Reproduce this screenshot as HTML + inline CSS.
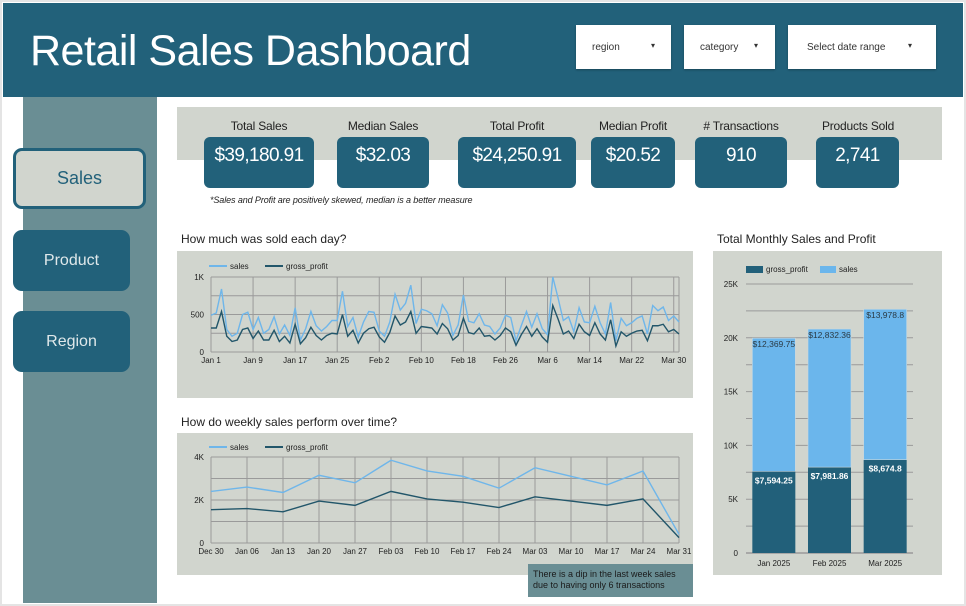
<!DOCTYPE html>
<html><head><meta charset="utf-8">
<style>
*{box-sizing:border-box;margin:0;padding:0}
body{width:966px;height:606px;background:#fff;font-family:"Liberation Sans",sans-serif;position:relative;overflow:hidden}
.abs{position:absolute}
#frame{left:0;top:0;width:966px;height:606px;border:2px solid #e4e4e4}
#header{left:3px;top:3px;width:960px;height:94px;background:#22617a}
#title{left:30px;top:27px;color:#fff;font-size:43px;letter-spacing:-0.5px}
.dd{background:#fff;height:44px;top:25px;font-size:10px;color:#333;box-shadow:0 1px 2px rgba(0,0,0,.3)}
.dd span{position:absolute;top:17px;left:16px}
.dd i{position:absolute;top:16px;font-style:normal;font-size:8px}
#sidebar{left:23px;top:97px;width:134px;height:506px;background:#6a8e94}
.nav{left:13px;width:117px;height:61px;border-radius:9px;background:#22617a;color:#dfe8ea;font-size:16px;text-align:center;line-height:61px}
#kpiband{left:177px;top:107px;width:765px;height:53px;background:#d1d5ce}
.kl{top:119px;font-size:12px;color:#222;text-align:center;letter-spacing:-0.2px}
.kv{top:137px;height:51px;background:#22617a;border-radius:6px;color:#fff;font-size:19px;text-align:center;line-height:38px;letter-spacing:-0.6px}
.ct{font-size:12px;color:#222}
.box{background:#d1d5ce}
svg text{font-family:"Liberation Sans",sans-serif}
</style></head><body>
<div class="abs" id="frame"></div>
<div class="abs" id="header"></div>
<div class="abs" id="title">Retail Sales Dashboard</div>
<div class="abs dd" style="left:576px;width:95px"><span>region</span><i style="left:75px">▾</i></div>
<div class="abs dd" style="left:684px;width:91px"><span>category</span><i style="left:70px">▾</i></div>
<div class="abs dd" style="left:788px;width:148px"><span style="left:19px">Select date range</span><i style="left:120px">▾</i></div>

<div class="abs" id="sidebar"></div>
<div class="abs nav" style="top:148px;width:133px;background:#d1d5ce;border:3px solid #22617a;color:#22617a;font-size:18px;line-height:55px">Sales</div>
<div class="abs nav" style="top:230px">Product</div>
<div class="abs nav" style="top:311px">Region</div>

<div class="abs" id="kpiband"></div>
<div class="abs kl" style="left:204px;width:110px">Total Sales</div>
<div class="abs kv" style="left:204px;width:110px">$39,180.91</div>
<div class="abs kl" style="left:337px;width:92px">Median Sales</div>
<div class="abs kv" style="left:337px;width:92px">$32.03</div>
<div class="abs kl" style="left:458px;width:118px">Total Profit</div>
<div class="abs kv" style="left:458px;width:118px">$24,250.91</div>
<div class="abs kl" style="left:591px;width:84px">Median Profit</div>
<div class="abs kv" style="left:591px;width:84px">$20.52</div>
<div class="abs kl" style="left:695px;width:92px"># Transactions</div>
<div class="abs kv" style="left:695px;width:92px">910</div>
<div class="abs kl" style="left:808px;width:100px">Products Sold</div>
<div class="abs kv" style="left:816px;width:83px">2,741</div>
<div class="abs" style="left:210px;top:195px;font-size:9px;font-style:italic;color:#222;letter-spacing:-0.1px">*Sales and Profit are positively skewed, median is a better measure</div>

<div class="abs ct" style="left:181px;top:232px">How much was sold each day?</div>
<div class="abs box" style="left:177px;top:251px;width:516px;height:147px"></div>
<svg class="abs" id="c1" style="left:0;top:0" width="966" height="606"></svg>

<div class="abs ct" style="left:181px;top:415px">How do weekly sales perform over time?</div>
<div class="abs box" style="left:177px;top:433px;width:516px;height:142px"></div>
<svg class="abs" id="c2" style="left:0;top:0" width="966" height="606"></svg>
<div class="abs" style="left:528px;top:564px;width:165px;height:33px;background:#6a8e94;color:#1a1a1a;font-size:9px;padding:5px 0 0 5px;line-height:11px">There is a dip in the last week sales<br>due to having only 6 transactions</div>

<div class="abs ct" style="left:717px;top:232px">Total Monthly Sales and Profit</div>
<div class="abs box" style="left:713px;top:251px;width:229px;height:324px"></div>
<svg class="abs" id="c3" style="left:0;top:0" width="966" height="606"></svg>

<script>
const dailySales=[490,520,840,300,210,250,500,530,300,460,250,300,470,240,360,220,590,160,310,540,350,280,340,420,420,810,340,460,200,400,540,
530,280,210,400,770,560,650,890,380,570,550,510,350,630,520,220,360,760,410,390,510,360,340,240,320,490,460,150,
350,540,330,510,310,230,1000,720,420,470,270,590,400,390,610,390,240,660,150,450,350,390,450,480,240,620,550,600,420,480,400];
const dailyProfit=[320,320,540,210,140,160,300,320,180,280,160,160,290,140,210,120,370,110,190,330,220,160,220,250,240,500,210,290,120,250,310,
330,200,130,260,480,360,400,540,250,340,330,320,240,380,310,160,220,450,260,240,320,210,220,160,220,320,270,90,
230,340,210,310,200,130,620,440,240,280,180,370,270,220,390,240,160,430,80,270,210,250,280,290,150,350,350,370,270,300,240];
const dailyTicks=["Jan 1","Jan 9","Jan 17","Jan 25","Feb 2","Feb 10","Feb 18","Feb 26","Mar 6","Mar 14","Mar 22","Mar 30"];
const dailyYTicks=[0,500,1000];
const dailyYLabels=["0","500","1K"];
const weeks=["Dec 30","Jan 06","Jan 13","Jan 20","Jan 27","Feb 03","Feb 10","Feb 17","Feb 24","Mar 03","Mar 10","Mar 17","Mar 24","Mar 31"];
const weeklySales=[2400,2600,2350,3150,2800,3850,3350,3100,2550,3500,3100,2700,3350,400];
const weeklyProfit=[1550,1600,1450,1950,1750,2400,2050,1900,1650,2150,1950,1750,2050,250];
const weeklyYTicks=[0,2000,4000];
const weeklyYLabels=["0","2K","4K"];
const months=["Jan 2025","Feb 2025","Mar 2025"];
const monthProfit=[7594.25,7981.86,8674.8];
const monthSales=[12369.75,12832.36,13978.8];
const monthProfitLabels=["$7,594.25","$7,981.86","$8,674.8"];
const monthSalesLabels=["$12,369.75","$12,832.36","$13,978.8"];
const monthYTicks=[0,5000,10000,15000,20000,25000];
const monthYLabels=["0","5K","10K","15K","20K","25K"];

const NS="http://www.w3.org/2000/svg";
function mk(svg,tag,attrs,txt){const e=document.createElementNS(NS,tag);for(const k in attrs)e.setAttribute(k,attrs[k]);if(txt!==undefined)e.textContent=txt;svg.appendChild(e);return e;}

// Chart 1
(function(){
const s=document.getElementById('c1');
const x0=211,x1=679,y0=352,y1=277,n=dailySales.length;
const X=i=>x0+i*(x1-x0)/(n-1);
const Y=v=>y0-(v/1000)*(y0-y1);
for(let v=0;v<=1000;v+=250){const l=mk(s,'line',{x1:x0,x2:x1,y1:Y(v),y2:Y(v),stroke:'#9a9a9a','stroke-width':1});

}
dailyTicks.forEach((t,k)=>{const x=X(k*8);const l=mk(s,'line',{x1:x,x2:x,y1:y1,y2:y0,stroke:'#9a9a9a','stroke-width':1});


const tx=mk(s,'text',{x:x,y:y0+11,'font-size':8,'text-anchor':'middle',fill:'#222'},t);

});
mk(s,'line',{x1:x1,x2:x1,y1:y1,y2:y0,stroke:'#9a9a9a'});
dailyYTicks.forEach((v,k)=>{const t=mk(s,'text',{x:204,y:Y(v)+3,'font-size':8,'text-anchor':'end',fill:'#222'},dailyYLabels[k]);

});
const p1=mk(s,'polyline',{points:dailySales.map((v,i)=>X(i)+','+Y(v)).join(' '),fill:'none',stroke:'#6fb6ea','stroke-width':1.4});


const p2=mk(s,'polyline',{points:dailyProfit.map((v,i)=>X(i)+','+Y(v)).join(' '),fill:'none',stroke:'#22566a','stroke-width':1.4});


mk(s,'line',{x1:209,x2:227,y1:266,y2:266,stroke:'#6fb6ea','stroke-width':2});
mk(s,'text',{x:230,y:269,'font-size':8,fill:'#222'},'sales');
mk(s,'line',{x1:265,x2:283,y1:266,y2:266,stroke:'#22566a','stroke-width':2});
mk(s,'text',{x:286,y:269,'font-size':8,fill:'#222'},'gross_profit');
})();

// Chart 2
(function(){
const s=document.getElementById('c2');
const x0=211,x1=679,y0=543,y1=457,n=weeks.length;
const X=i=>x0+i*(x1-x0)/(n-1);
const Y=v=>y0-(v/4000)*(y0-y1);
for(let v=0;v<=4000;v+=1000){const l=mk(s,'line',{x1:x0,x2:x1,y1:Y(v),y2:Y(v),stroke:'#9a9a9a'});

}
weeks.forEach((w,i)=>{const l=mk(s,'line',{x1:X(i),x2:X(i),y1:y1,y2:y0,stroke:'#9a9a9a'});


const t=mk(s,'text',{x:X(i),y:y0+11,'font-size':8,'text-anchor':'middle',fill:'#222'},w);

});
weeklyYTicks.forEach((v,k)=>{const t=mk(s,'text',{x:204,y:Y(v)+3,'font-size':8,'text-anchor':'end',fill:'#222'},weeklyYLabels[k]);

});
const p1=mk(s,'polyline',{points:weeklySales.map((v,i)=>X(i)+','+Y(v)).join(' '),fill:'none',stroke:'#6fb6ea','stroke-width':1.4});


const p2=mk(s,'polyline',{points:weeklyProfit.map((v,i)=>X(i)+','+Y(v)).join(' '),fill:'none',stroke:'#22566a','stroke-width':1.4});


mk(s,'line',{x1:209,x2:227,y1:447,y2:447,stroke:'#6fb6ea','stroke-width':2});
mk(s,'text',{x:230,y:450,'font-size':8,fill:'#222'},'sales');
mk(s,'line',{x1:265,x2:283,y1:447,y2:447,stroke:'#22566a','stroke-width':2});
mk(s,'text',{x:286,y:450,'font-size':8,fill:'#222'},'gross_profit');
})();

// Chart 3
(function(){
const s=document.getElementById('c3');
const x0=746,x1=913,y0=553,y1=284;
const Y=v=>y0-(v/25000)*(y0-y1);
const bw=43,step=(x1-x0)/months.length;
for(let v=0;v<=25000;v+=2500){const l=mk(s,'line',{x1:x0,x2:x1,y1:Y(v),y2:Y(v),stroke:'#9a9a9a','stroke-width':v===0?1.5:1});

}
monthYTicks.forEach((v,k)=>{const t=mk(s,'text',{x:738,y:Y(v)+3,'font-size':8,'text-anchor':'end',fill:'#222'},monthYLabels[k]);

});
months.forEach((m,i)=>{
const cx=x0+step*(i+0.5),bx=cx-bw/2;
const r1=mk(s,'rect',{x:bx,y:Y(monthProfit[i]),width:bw,height:Y(0)-Y(monthProfit[i]),fill:'#22607a'});


const top=monthProfit[i]+monthSales[i];
const r2=mk(s,'rect',{x:bx,y:Y(top),width:bw,height:Y(monthProfit[i])-Y(top),fill:'#6bb6ec',stroke:'#c9d9e0','stroke-width':0.6});


const t1=mk(s,'text',{x:cx,y:Y(monthProfit[i])+12,'font-size':8.5,'font-weight':'bold','text-anchor':'middle',fill:'#fff'},monthProfitLabels[i]);


const t2=mk(s,'text',{x:cx,y:Y(top)+9,'font-size':8.5,'text-anchor':'middle',fill:'#2a3a44'},monthSalesLabels[i]);


const t3=mk(s,'text',{x:cx,y:566,'font-size':8,'text-anchor':'middle',fill:'#222'},m);


});
mk(s,'rect',{x:746,y:266,width:17,height:7,fill:'#22607a'});
mk(s,'text',{x:766,y:272,'font-size':8,fill:'#222'},'gross_profit');
mk(s,'rect',{x:820,y:266,width:16,height:7,fill:'#6bb6ec'});
mk(s,'text',{x:839,y:272,'font-size':8,fill:'#222'},'sales');
})();
</script>
</body></html>
